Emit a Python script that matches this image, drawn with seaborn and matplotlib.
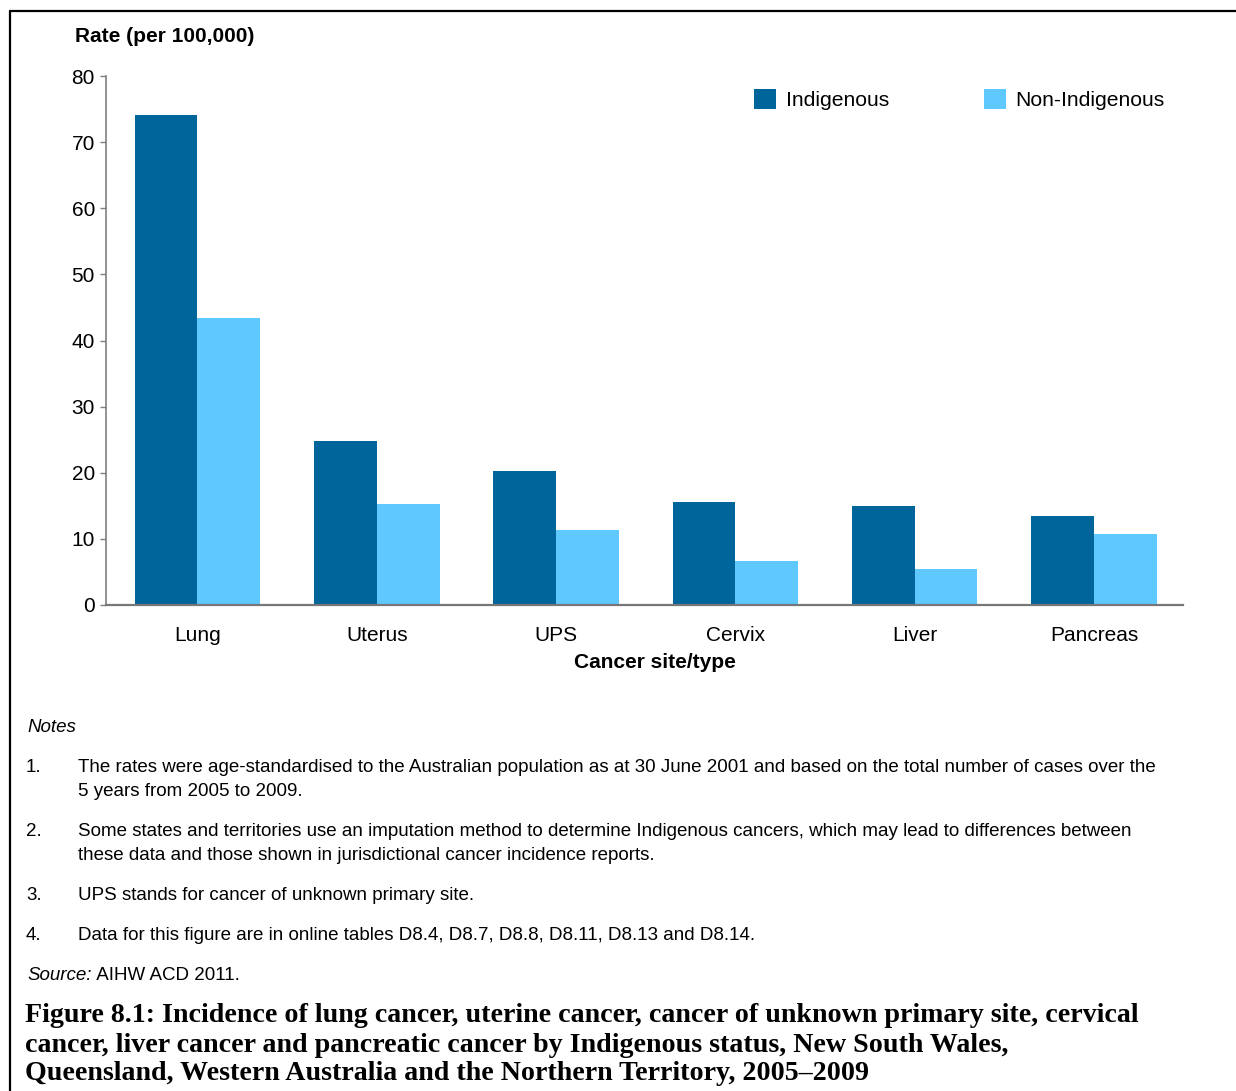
import pandas as pd
import matplotlib
matplotlib.use('Agg')
import matplotlib.pyplot as plt
import seaborn as sns
from matplotlib.lines import Line2D
from matplotlib.patches import Patch

# Data
sites = ['Lung', 'Uterus', 'UPS', 'Cervix', 'Liver', 'Pancreas']
indigenous = [74.1, 24.8, 20.3, 15.6, 15.0, 13.4]
non_indigenous = [43.4, 15.3, 11.3, 6.7, 5.4, 10.7]
groups = ['Indigenous', 'Non-Indigenous']
colours = ['#00659A', '#5FC9FF']
y_ticks = [0, 10, 20, 30, 40, 50, 60, 70, 80]

notes = [
    ('1.', ['The rates were age-standardised to the Australian population as at 30 June 2001 and based on the total number of cases over the',
            '5 years from 2005 to 2009.']),
    ('2.', ['Some states and territories use an imputation method to determine Indigenous cancers, which may lead to differences between',
            'these data and those shown in jurisdictional cancer incidence reports.']),
    ('3.', ['UPS stands for cancer of unknown primary site.']),
    ('4.', ['Data for this figure are in online tables D8.4, D8.7, D8.8, D8.11, D8.13 and D8.14.']),
]
caption = [
    'Figure 8.1: Incidence of lung cancer, uterine cancer, cancer of unknown primary site, cervical',
    'cancer, liver cancer and pancreatic cancer by Indigenous status, New South Wales,',
    'Queensland, Western Australia and the Northern Territory, 2005\u20132009',
]

sns.set_theme(style='white')
plt.rcParams['font.family'] = ['Liberation Sans', 'DejaVu Sans']
plt.rcParams['text.color'] = 'black'
plt.rcParams['axes.labelcolor'] = 'black'

df = pd.DataFrame({
    'site': sites * 2,
    'rate': indigenous + non_indigenous,
    'group': [groups[0]] * len(sites) + [groups[1]] * len(sites),
})

W, H = 1236, 1091
fig = plt.figure(figsize=(W / 100, H / 100), dpi=100)


def fx(px):
    return px / W


def fy(py):
    return 1 - py / H


ax = fig.add_axes([fx(106), fy(605), fx(1183 - 106), (605 - 76) / H])
sns.barplot(data=df, x='site', y='rate', hue='group', palette=colours,
            width=0.7, saturation=1, linewidth=0, ax=ax)

ax.set_xlim(-0.51, 5.496)
ax.set_ylim(0, 80)
ax.set_yticks(y_ticks)
ax.set_xlabel('')
ax.set_ylabel('')
for s in ['top', 'right']:
    ax.spines[s].set_visible(False)
ax.spines['left'].set_color('#808080')
ax.spines['left'].set_linewidth(1.2)
ax.spines['bottom'].set_color('#777777')
ax.spines['bottom'].set_linewidth(1.6)
ax.tick_params(axis='y', left=True, length=4.5, width=1, color='#808080',
               pad=3.5, labelsize=15, labelcolor='black')
ax.tick_params(axis='x', bottom=False, length=0, pad=15, labelsize=15,
               labelcolor='black')

handles = [Patch(facecolor=c, edgecolor='none') for c in colours]
ax.legend(handles, groups, loc='upper left', bbox_to_anchor=(fx(754), fy(89)),
          bbox_transform=fig.transFigure, ncol=2, frameon=False, fontsize=15.2,
          handlelength=1.05, handleheight=1.05, handletextpad=0.45,
          columnspacing=4.5, borderpad=0, borderaxespad=0)

fig.text(fx(75), fy(37), 'Rate (per 100,000)', fontsize=15, fontweight='bold',
         va='center', ha='left')
fig.text(fx(655), fy(662), 'Cancer site/type', fontsize=15, fontweight='bold',
         va='center', ha='center')

# notes block
fs = 13.5
fig.text(fx(27), fy(727), 'Notes', fontsize=fs, style='italic', va='center')
note_y = [768, 832, 895, 935]
for (num, lines), y0 in zip(notes, note_y):
    fig.text(fx(26), fy(y0), num, fontsize=fs, va='center')
    for i, line in enumerate(lines):
        fig.text(fx(78), fy(y0 + 24 * i), line, fontsize=fs, va='center')

src = fig.text(fx(27), fy(975), 'Source:', fontsize=fs, style='italic', va='center')
renderer = fig.canvas.get_renderer()
bb = src.get_window_extent(renderer)
fig.text(bb.x1 / W, fy(975), ' AIHW ACD 2011.', fontsize=fs, va='center')

# caption, last line pushed up just enough to stay inside the image
cap_y = [1016, 1045, 1073]
for line, y0 in zip(caption, cap_y):
    fig.text(fx(25), fy(y0), line, fontsize=20.2, fontweight='bold',
             family=['Liberation Serif', 'DejaVu Serif'], va='center')

# frame, open at right and bottom
fig.add_artist(Line2D([fx(9.5), 1.0], [fy(10.5), fy(10.5)], color='black', lw=1.6))
fig.add_artist(Line2D([fx(9.5), fx(9.5)], [fy(10.5), 0.0], color='black', lw=1.6))

fig.savefig('out.png', dpi=100)
